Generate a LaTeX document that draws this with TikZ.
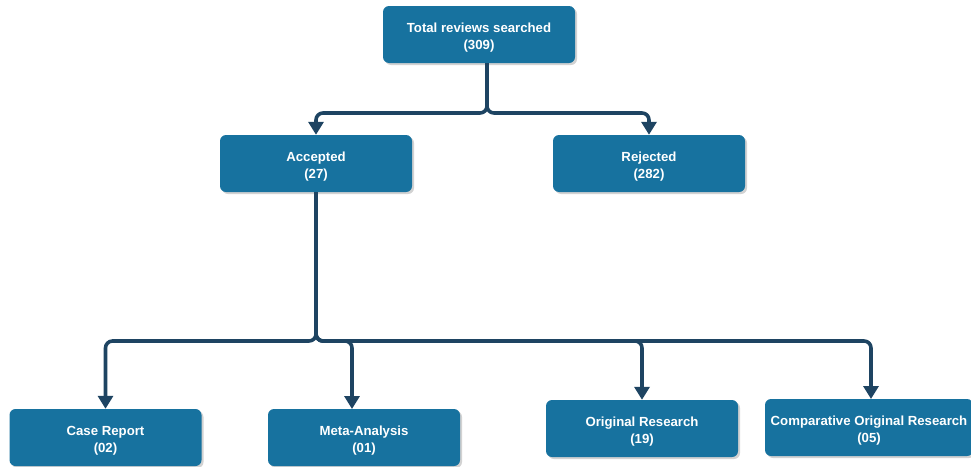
\documentclass[tikz,border=0pt]{standalone}
\usepackage{fontspec}
\setmainfont{Liberation Sans}
\usetikzlibrary{arrows.meta,shadows,calc}
\definecolor{boxfill}{HTML}{17729F}
\definecolor{linecol}{HTML}{1E4462}
\newcommand{\toppad}{\rule{0pt}{15pt}}
\tikzset{
  box/.style={draw=none, fill=boxfill, rounded corners=6pt, minimum width=192pt, minimum height=57pt,
    text=white, font=\fontsize{13.2}{17}\selectfont\bfseries, align=center, inner sep=0pt,
    drop shadow={opacity=0.35, shadow xshift=2pt, shadow yshift=-2pt}},
  conn/.style={draw=linecol, line width=3.6pt, rounded corners=7pt,
    -{Triangle[width=15pt,length=13pt]}}
}
\begin{document}
\begin{tikzpicture}[x=1pt,y=-1pt]
\useasboundingbox (0,0) rectangle (971,466);
\fill[white] (0,0) rectangle (971,466);
\node[box] (top) at (479,34.5) {\toppad Total reviews searched\\(309)};
\node[box] (acc) at (316,163.5) {\toppad Accepted\\(27)};
\node[box] (rej) at (649,163.5) {\toppad Rejected\\(282)};
\node[box] (cr) at (105.5,437.5) {\toppad Case Report\\(02)};
\node[box] (ma) at (364,437.5) {\toppad Meta-Analysis\\(01)};
\node[box] (orr) at (642,428.5) {\toppad Original Research\\(19)};
\node[box, minimum width=208pt] (cor) at (869,427.5) {\toppad Comparative Original Research\\(05)};
\coordinate (s1) at ($(top.south)+(8,0)$);
\coordinate (j1) at (487,113);
\coordinate (j2) at (316,341);
\draw[conn] (s1) |- (acc.north |- j1) -- (acc.north);
\draw[conn] (s1) |- (rej.north |- j1) -- (rej.north);
\draw[conn] (acc.south) |- (cr.north |- j2) -- (cr.north);
\draw[conn] (acc.south) |- (352,341) -- (352,409);
\draw[conn] (acc.south) |- (orr.north |- j2) -- (orr.north);
\draw[conn] (acc.south) |- (871,341) -- (871,399);
\end{tikzpicture}
\end{document}
